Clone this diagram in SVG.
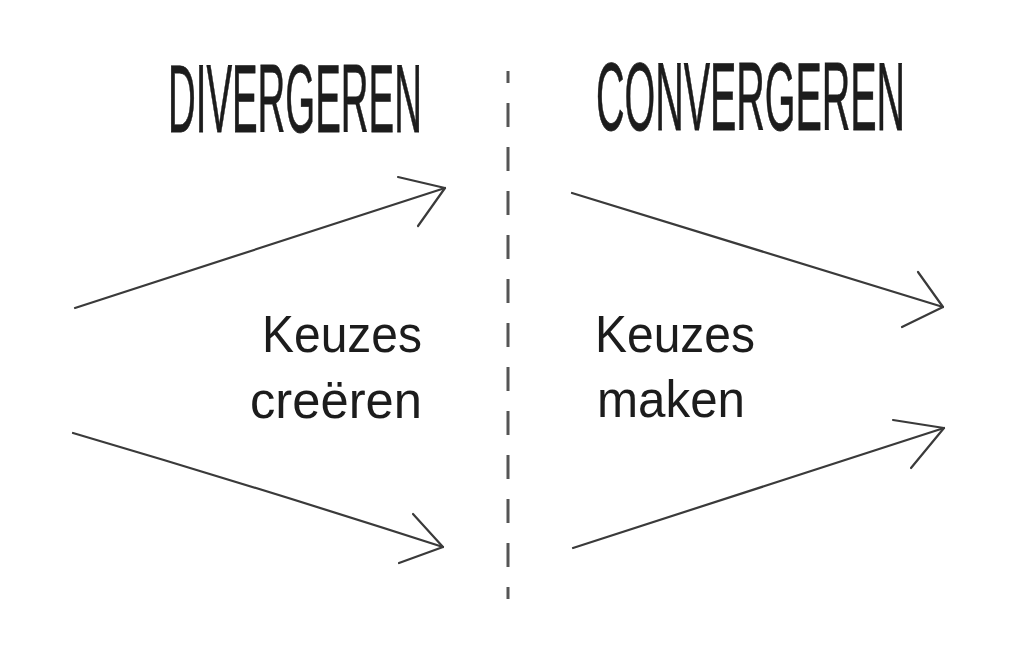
<svg xmlns="http://www.w3.org/2000/svg" width="1025" height="647" viewBox="0 0 1025 647">
<style>
.title{font-family:"Liberation Sans",Arial,sans-serif;font-size:96px;fill:#1c1c1c;stroke:#1c1c1c;stroke-width:0.8}
.lbl{font-family:"Liberation Sans",Arial,sans-serif;font-size:52px;fill:#1c1c1c}
.arr{fill:none;stroke:#3a3a3a;stroke-width:2.2;stroke-linecap:round;stroke-linejoin:round}
.head{fill:none;stroke:#3a3a3a;stroke-width:2.2;stroke-linecap:round;stroke-linejoin:round}
.div{stroke:#555;stroke-width:3;stroke-dasharray:24 20;stroke-dashoffset:12}
</style>
<rect width="1025" height="647" fill="#ffffff"/>
<g id="title-divergeren"><text class="title" transform="translate(168 132) scale(0.4 1)" x="0" y="0">DIVERGEREN</text></g>
<g id="title-convergeren"><text class="title" transform="translate(596 130) scale(0.411 1)" x="0" y="0">CONVERGEREN</text></g>
<g id="divider"><line class="div" x1="508" y1="71" x2="508" y2="599"/></g>
<g id="label-creeren">
<text class="lbl" x="262" y="352" textLength="160" lengthAdjust="spacingAndGlyphs">Keuzes</text>
<text class="lbl" x="250" y="418" textLength="172" lengthAdjust="spacingAndGlyphs">creëren</text>
</g>
<g id="label-maken">
<text class="lbl" x="595" y="352" textLength="160" lengthAdjust="spacingAndGlyphs">Keuzes</text>
<text class="lbl" x="597" y="417" textLength="148" lengthAdjust="spacingAndGlyphs">maken</text>
</g>
<g id="connectors">
<path class="arr" d="M75 308 Q227 258 445 188"/>
<polyline class="head" points="398,177 445,188 418,226"/>
<path class="arr" d="M73 433 Q260 488 443 547"/>
<polyline class="head" points="413,514 443,547 399,563"/>
<path class="arr" d="M572 193 Q760 250 943 307"/>
<polyline class="head" points="918,272 943,307 902,327"/>
<path class="arr" d="M573 548 Q760 488 944 428"/>
<polyline class="head" points="893,420 944,428 911,468"/>
</g>
</svg>
